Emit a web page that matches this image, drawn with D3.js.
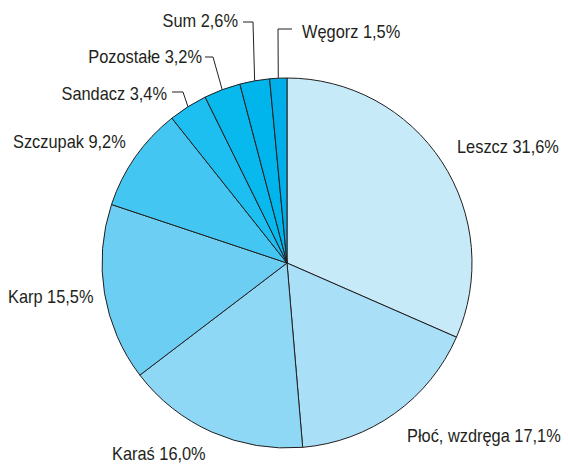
<!DOCTYPE html>
<html>
<head>
<meta charset="utf-8">
<script src="https://cdn.jsdelivr.net/npm/d3@7"></script>
<style>
  body { margin: 0; background: #fff; }
  svg text { font-family: "Liberation Sans", Arial, sans-serif; font-size: 18px; fill: #231f20; }
</style>
</head>
<body>
<script>
// fish species share, clockwise from 12 o'clock
const species = ["Leszcz", "Płoć, wzdręga", "Karaś", "Karp", "Szczupak", "Sandacz", "Pozostałe", "Sum", "Węgorz"];
const shares = [31.6, 17.1, 16.0, 15.5, 9.2, 3.4, 3.2, 2.6, 1.5];
const shareLabels = ["31,6%", "17,1%", "16,0%", "15,5%", "9,2%", "3,4%", "3,2%", "2,6%", "1,5%"];
const colors = ["#c7eaf9", "#a9e0f8", "#8ed8f5", "#6dcef4", "#43c6f2", "#1dbff0", "#08b9ee", "#00b4ec", "#00aee9"];

const width = 568, height = 464;
const cx = 287, cy = 263, radius = 185;
const squeeze = 0.91; // no condensed font available, narrow the glyphs instead

// label placement (x, baseline y, anchor) and leader elbows for the small slices
const labelPos = [
  [457, 153, "start"],
  [407, 442, "start"],
  [112, 460, "start"],
  [8, 303, "start"],
  [13, 148, "start"],
  [167, 100, "end"],
  [202, 63, "end"],
  [238, 27, "end"],
  [302, 38, "start"]
];
const leaders = {
  5: [[183, 92], [172, 92]],
  6: [[213, 57], [205, 57]],
  7: [[253, 22], [243, 22]],
  8: [[278, 29], [292, 29]]
};

const svg = d3.select("body").append("svg")
  .attr("width", width)
  .attr("height", height);

const data = species.map((s, i) => ({ name: s, value: shares[i], label: shareLabels[i], i: i }));

const pie = d3.pie().value(d => d.value).sort(null);
const arc = d3.arc().innerRadius(0).outerRadius(radius);
const arcs = pie(data);

const g = svg.append("g").attr("transform", `translate(${cx},${cy})`);

g.selectAll("path.slice")
  .data(arcs)
  .join("path")
  .attr("class", "slice")
  .attr("d", arc)
  .attr("fill", d => colors[d.data.i])
  .attr("stroke", "#231f20")
  .attr("stroke-width", 1)
  .attr("stroke-linejoin", "round");

// leader lines from slice edge midpoint
const edgeArc = d3.arc().innerRadius(radius).outerRadius(radius);
arcs.forEach(a => {
  const el = leaders[a.data.i];
  if (!el) return;
  const p = edgeArc.centroid(a);
  const pts = [[p[0] + cx, p[1] + cy]].concat(el);
  svg.append("path")
    .attr("d", d3.line()(pts))
    .attr("fill", "none")
    .attr("stroke", "#231f20")
    .attr("stroke-width", 1);
});

svg.selectAll("text.lbl")
  .data(data)
  .join("text")
  .attr("class", "lbl")
  .attr("transform", d => `translate(${labelPos[d.i][0]},${labelPos[d.i][1]}) scale(${squeeze},1)`)
  .attr("text-anchor", d => labelPos[d.i][2])
  .text(d => `${d.name} ${d.label}`);
</script>
</body>
</html>
